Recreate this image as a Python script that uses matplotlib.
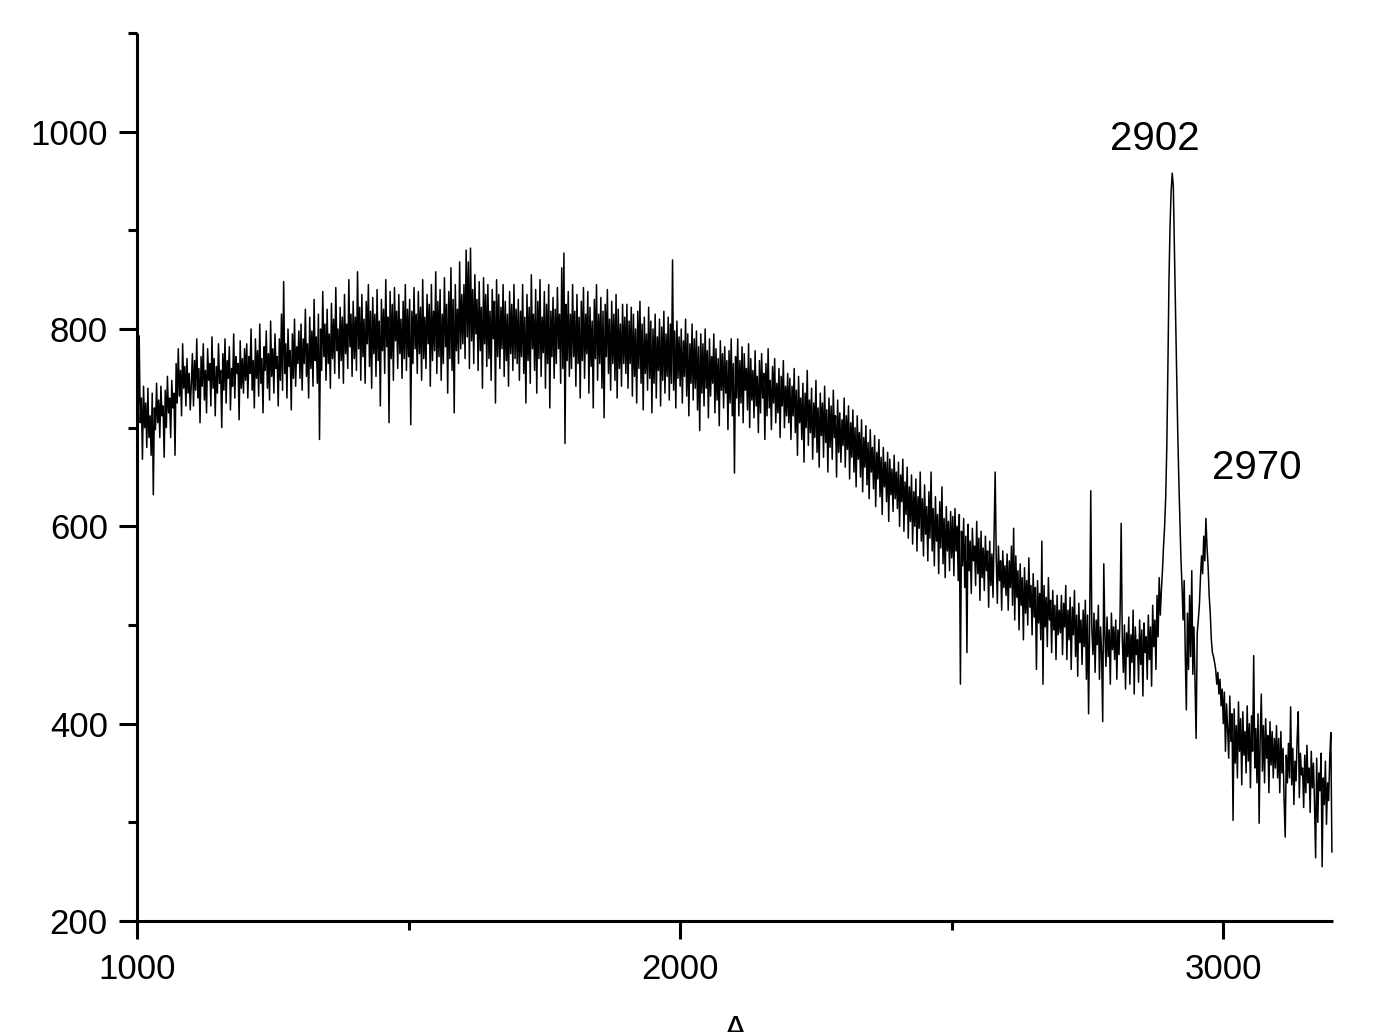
import numpy as np
import matplotlib

matplotlib.use("Agg")
import matplotlib.pyplot as plt
from matplotlib.ticker import MultipleLocator

plt.rcParams["font.family"] = ["Liberation Sans", "DejaVu Sans"]

# spectrum, one sample every 2 units, one block per 100 units
x_step = 2
block_starts = [1000, 1100, 1200, 1300, 1400, 1500, 1600, 1700, 1800, 1900, 2000,
                2100, 2200, 2300, 2400, 2500, 2600, 2700, 2800, 2900, 3000, 3100]
blocks = [
    [760, 700, 793, 705, 730, 668, 742, 700, 725, 680, 740, 690, 712, 672, 735, 632, 720, 698, 745, 705,
     728, 690, 742, 712, 722, 670, 738, 700, 752, 715, 730, 690, 748, 720, 735, 672, 765, 725, 780, 732,
     758, 712, 785, 740, 762, 722, 770, 735, 755, 718],
    [745, 775, 722, 768, 738, 790, 730, 760, 705, 772, 742, 785, 728, 758, 715, 780, 748, 765, 722, 792,
     740, 770, 712, 762, 735, 785, 745, 758, 700, 775, 738, 790, 725, 768, 750, 782, 718, 760, 742, 795,
     730, 772, 755, 765, 708, 788, 740, 770, 735, 780],
    [748, 785, 730, 772, 755, 800, 738, 768, 720, 790, 750, 778, 732, 805, 745, 770, 715, 782, 758, 798,
     740, 775, 728, 808, 752, 780, 735, 795, 760, 772, 722, 790, 748, 815, 738, 848, 755, 785, 730, 800,
     762, 778, 718, 795, 750, 810, 742, 782, 765, 798],
    [750, 805, 738, 790, 765, 820, 752, 785, 730, 812, 760, 798, 742, 830, 768, 792, 745, 815, 688, 800,
     758, 838, 772, 805, 748, 820, 765, 795, 740, 826, 770, 810, 755, 842, 778, 800, 750, 822, 768, 812,
     745, 835, 775, 805, 760, 850, 782, 815, 752, 828],
    [770, 812, 758, 858, 780, 822, 748, 835, 772, 810, 745, 828, 785, 845, 762, 818, 740, 832, 775, 815,
     752, 840, 768, 808, 722, 830, 778, 820, 755, 850, 782, 812, 705, 838, 770, 825, 748, 842, 788, 818,
     760, 835, 775, 810, 750, 828, 770, 845, 758, 820],
    [772, 830, 703, 818, 765, 842, 780, 815, 755, 838, 775, 822, 748, 850, 770, 812, 760, 835, 785, 825,
     742, 845, 768, 818, 778, 858, 755, 828, 772, 840, 748, 815, 765, 852, 782, 825, 735, 838, 770, 862,
     758, 830, 715, 845, 778, 820, 765, 868, 780, 835],
    [785, 845, 770, 880, 792, 868, 760, 882, 788, 840, 765, 855, 795, 830, 758, 848, 778, 822, 740, 852,
     785, 835, 762, 845, 770, 818, 748, 840, 790, 828, 725, 850, 772, 835, 760, 822, 780, 845, 752, 828,
     768, 815, 742, 838, 775, 825, 758, 845, 770, 820],
    [765, 830, 748, 818, 772, 845, 755, 812, 725, 835, 768, 822, 745, 855, 780, 815, 758, 840, 735, 828,
     770, 850, 752, 812, 776, 838, 740, 825, 765, 845, 720, 818, 772, 832, 750, 820, 765, 842, 780, 815,
     745, 862, 760, 877, 684, 825, 768, 838, 752, 815],
    [760, 845, 772, 818, 742, 835, 765, 812, 730, 828, 768, 842, 750, 815, 775, 838, 735, 822, 762, 808,
     720, 830, 770, 845, 748, 815, 765, 832, 740, 818, 710, 825, 772, 840, 755, 810, 738, 828, 765, 815,
     748, 835, 730, 820, 760, 805, 742, 825, 765, 812],
    [755, 825, 740, 808, 765, 822, 732, 815, 752, 800, 725, 818, 760, 828, 745, 805, 718, 812, 755, 795,
     738, 822, 750, 808, 715, 800, 745, 815, 730, 792, 758, 810, 722, 802, 748, 818, 735, 795, 752, 812,
     728, 805, 745, 870, 738, 798, 720, 808, 750, 792],
    [742, 800, 725, 788, 752, 810, 732, 795, 712, 785, 745, 805, 728, 790, 740, 798, 718, 782, 697, 795,
     735, 785, 722, 800, 740, 778, 710, 790, 732, 772, 745, 795, 715, 780, 728, 770, 702, 788, 738, 775,
     720, 782, 735, 768, 698, 778, 725, 790, 712, 765],
    [654, 772, 730, 790, 712, 768, 725, 782, 705, 775, 738, 760, 718, 785, 700, 770, 728, 758, 710, 778,
     722, 752, 695, 768, 715, 775, 730, 755, 688, 765, 712, 780, 720, 748, 698, 762, 725, 770, 705, 745,
     715, 760, 690, 752, 722, 768, 700, 742, 712, 755],
    [705, 750, 688, 742, 712, 760, 695, 738, 672, 752, 705, 730, 688, 745, 665, 735, 700, 758, 682, 728,
     695, 740, 668, 725, 690, 748, 675, 720, 660, 735, 692, 725, 670, 742, 685, 718, 655, 730, 680, 722,
     668, 738, 690, 712, 650, 728, 675, 715, 665, 708],
    [682, 730, 660, 712, 678, 722, 648, 705, 670, 718, 655, 700, 640, 712, 668, 695, 650, 708, 635, 690,
     660, 702, 642, 685, 628, 698, 655, 680, 638, 692, 620, 675, 648, 688, 630, 670, 612, 680, 640, 665,
     625, 675, 605, 668, 632, 658, 615, 672, 628, 655],
    [618, 665, 600, 652, 625, 668, 595, 645, 612, 660, 588, 640, 605, 652, 582, 635, 600, 648, 575, 630,
     598, 655, 585, 628, 570, 642, 592, 620, 565, 635, 588, 655, 575, 618, 560, 630, 585, 612, 552, 625,
     578, 640, 562, 608, 548, 620, 575, 605, 555, 615],
    [568, 610, 550, 618, 575, 600, 545, 612, 440, 595, 560, 608, 538, 590, 472, 602, 555, 585, 532, 598,
     565, 580, 540, 605, 552, 588, 525, 595, 548, 578, 535, 590, 555, 575, 518, 585, 540, 572, 528, 590,
     655, 568, 522, 580, 545, 565, 515, 575, 538, 560],
    [530, 572, 515, 565, 538, 580, 520, 598, 505, 570, 528, 555, 495, 562, 520, 548, 485, 558, 512, 545,
     500, 568, 518, 540, 490, 552, 508, 538, 455, 545, 502, 532, 485, 585, 440, 540, 498, 528, 478, 548,
     505, 525, 472, 535, 495, 520, 465, 530, 490, 515],
    [492, 530, 470, 522, 498, 540, 465, 515, 485, 528, 455, 518, 490, 535, 468, 510, 448, 522, 482, 505,
     460, 515, 478, 525, 445, 510, 410, 502, 636, 495, 470, 512, 452, 505, 480, 520, 445, 498, 472, 402,
     562, 490, 458, 508, 468, 495, 440, 512, 475, 498],
    [465, 505, 445, 495, 470, 512, 603, 488, 452, 500, 435, 492, 468, 508, 440, 490, 462, 515, 430, 498,
     470, 485, 442, 505, 460, 495, 428, 502, 472, 488, 445, 510, 465, 498, 438, 520, 478, 505, 455, 530,
     488, 548, 510, 535, 555, 580, 600, 630, 680, 760],
    [850, 905, 940, 958, 945, 880, 820, 760, 700, 650, 610, 568, 540, 505, 545, 470, 414, 512, 455, 530,
     468, 555, 450, 498, 440, 385, 492, 505, 520, 548, 570, 552, 590, 565, 608, 580, 560, 530, 512, 485,
     472, 468, 462, 455, 440, 452, 430, 445, 418, 435],
    [400, 432, 372, 420, 395, 365, 428, 382, 410, 302, 415, 360, 398, 345, 422, 372, 405, 338, 412, 368,
     392, 350, 418, 362, 400, 335, 408, 372, 469, 355, 395, 340, 410, 299, 388, 430, 352, 398, 340, 405,
     365, 388, 330, 402, 358, 392, 345, 385, 355, 398],
    [345, 385, 330, 392, 350, 375, 322, 285, 368, 340, 380, 345, 417, 338, 375, 318, 362, 342, 385, 412,
     325, 370, 348, 355, 315, 368, 330, 378, 340, 355, 310, 372, 335, 360, 318, 264, 365, 300, 350, 332,
     370, 255, 345, 318, 362, 298, 340, 322, 365, 391, 270],
]

wavenumber = np.concatenate([s + x_step * np.arange(len(b)) for s, b in zip(block_starts, blocks)])
intensity = np.concatenate(blocks)

peak_labels = ["2902", "2970"]
peak_label_x = [2874, 3062]
peak_label_y = [993, 659]

fig = plt.figure(figsize=(13.91, 10.32), dpi=100)
ax = fig.add_axes([0.0985, 0.1076, 0.8598, 0.8604])

ax.plot(wavenumber, intensity, color="black", lw=1.1)

for lab, lx, ly in zip(peak_labels, peak_label_x, peak_label_y):
    ax.text(lx, ly, lab, fontsize=29, ha="center", va="center")

ax.set_xlim(1000, 3202)
ax.set_ylim(200, 1100)
ax.xaxis.set_major_locator(MultipleLocator(1000))
ax.xaxis.set_minor_locator(MultipleLocator(500))
ax.yaxis.set_major_locator(MultipleLocator(200))
ax.yaxis.set_minor_locator(MultipleLocator(100))

for side in ("top", "right"):
    ax.spines[side].set_visible(False)
for side in ("left", "bottom"):
    ax.spines[side].set_linewidth(2.2)
    ax.spines[side].set_capstyle("butt")

ax.tick_params(which="major", length=13, width=2.2, labelsize=25, direction="out")
ax.tick_params(which="minor", length=6.5, width=2.2, direction="out")
ax.tick_params(axis="y", which="major", pad=8)
ax.tick_params(axis="x", which="major", pad=10)

ax.set_xlabel("A", fontsize=25, labelpad=20)

fig.savefig("out.png", dpi=100)
